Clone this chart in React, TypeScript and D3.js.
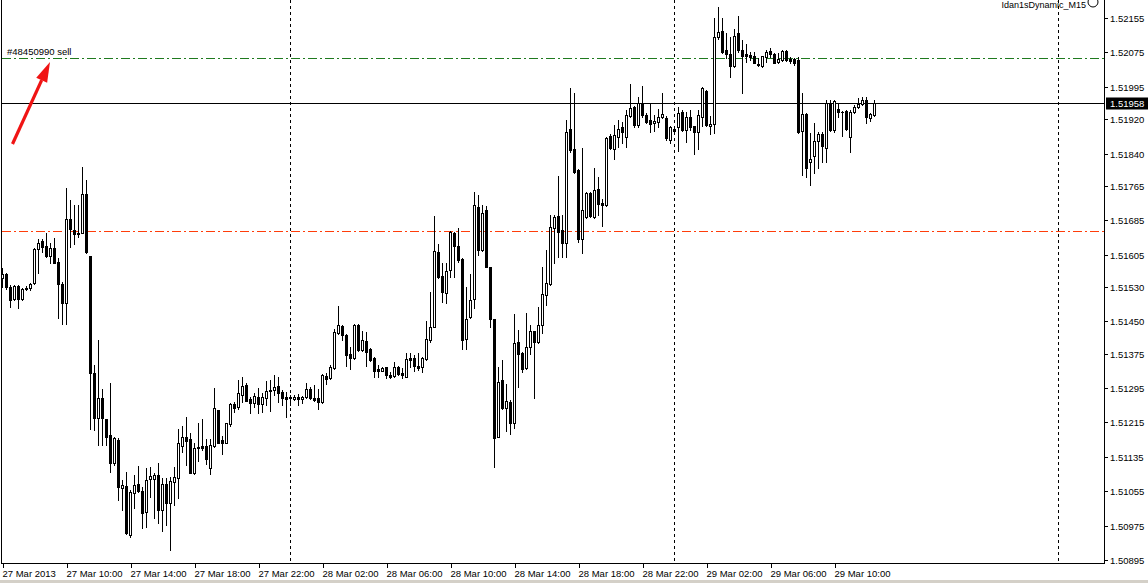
import React from "react";
import * as d3 from "d3";

const W = 1148;
const H = 583;

// First M15 bar of the chart
const startTime = new Date(2013, 2, 27, 6, 0);
const barMinutes = 15;

const open = [
1.51550,1.51560,1.51530,1.51502,1.51532,1.51502,1.51528,1.51528,1.51539,1.51618,
1.51636,1.51625,1.51602,1.51620,1.51587,1.51537,1.51492,1.51688,1.51662,1.51655,
1.51655,1.51746,1.51602,1.51330,1.51225,1.51271,1.51223,1.51185,1.51120,1.51174,
1.51062,1.51067,1.50953,1.51051,1.51072,1.51056,1.51006,1.51083,1.51083,1.51092,
1.51011,1.51072,1.51027,1.51076,1.51086,1.51160,1.51181,1.51176,1.51097,1.51158,
1.51160,1.51160,1.51109,1.51160,1.51244,1.51174,1.51167,1.51211,1.51258,1.51251,
1.51279,1.51301,1.51269,1.51260,1.51274,1.51258,1.51271,1.51290,1.51290,1.51299,
1.51285,1.51274,1.51274,1.51269,1.51274,1.51269,1.51274,1.51292,1.51271,1.51271,
1.51262,1.51323,1.51318,1.51342,1.51423,1.51439,1.51418,1.51374,1.51365,1.51441,
1.51383,1.51404,1.51386,1.51365,1.51339,1.51335,1.51344,1.51325,1.51323,1.51344,
1.51330,1.51321,1.51365,1.51365,1.51346,1.51344,1.51362,1.51406,1.51437,1.51611,
1.51555,1.51516,1.51569,1.51655,1.51625,1.51595,1.51409,1.51460,1.51502,1.51716,
1.51616,1.51709,1.51576,1.51455,1.51181,1.51313,1.51248,1.51262,1.51213,1.51402,
1.51376,1.51342,1.51391,1.51428,1.51402,1.51441,1.51512,1.51537,1.51667,1.51695,
1.51662,1.51632,1.51897,1.51850,1.51802,1.51641,1.51693,1.51748,1.51693,1.51757,
1.51725,1.51720,1.51880,1.51850,1.51878,1.51901,1.51878,1.51927,1.51948,1.51906,
1.51957,1.51929,1.51918,1.51911,1.51913,1.51925,1.51922,1.51871,1.51897,1.51901,
1.51937,1.51895,1.51925,1.51904,1.51890,1.51925,1.51985,1.51904,1.51908,1.52111,
1.52125,1.52081,1.52071,1.52043,1.52120,1.52081,1.52071,1.52069,1.52067,1.52048,
1.52043,1.52064,1.52078,1.52071,1.52053,1.52057,1.52078,1.52060,1.52060,1.52057,
1.51893,1.51932,1.51820,1.51834,1.51869,1.51885,1.51852,1.51957,1.51895,1.51943,
1.51937,1.51939,1.51878,1.51937,1.51948,1.51955,1.51964,1.51922,1.51929
];
const high = [
1.51573,1.51562,1.51534,1.51534,1.51534,1.51528,1.51532,1.51539,1.51620,1.51641,
1.51641,1.51655,1.51632,1.51644,1.51597,1.51541,1.51759,1.51732,1.51720,1.51720,
1.51809,1.51778,1.51602,1.51348,1.51406,1.51292,1.51223,1.51306,1.51181,1.51179,
1.51081,1.51099,1.51058,1.51092,1.51113,1.51065,1.51109,1.51111,1.51097,1.51120,
1.51086,1.51086,1.51088,1.51111,1.51199,1.51206,1.51227,1.51190,1.51167,1.51213,
1.51223,1.51176,1.51176,1.51294,1.51244,1.51183,1.51213,1.51260,1.51262,1.51313,
1.51320,1.51306,1.51274,1.51283,1.51294,1.51283,1.51311,1.51313,1.51325,1.51320,
1.51290,1.51285,1.51279,1.51279,1.51281,1.51276,1.51306,1.51297,1.51301,1.51292,
1.51327,1.51330,1.51348,1.51432,1.51485,1.51441,1.51421,1.51391,1.51444,1.51444,
1.51428,1.51425,1.51388,1.51367,1.51348,1.51344,1.51344,1.51332,1.51355,1.51346,
1.51342,1.51376,1.51376,1.51371,1.51376,1.51367,1.51451,1.51518,1.51695,1.51629,
1.51585,1.51585,1.51660,1.51657,1.51666,1.51597,1.51530,1.51560,1.51750,1.51743,
1.51720,1.51718,1.51576,1.51455,1.51344,1.51360,1.51304,1.51267,1.51467,1.51430,
1.51379,1.51469,1.51441,1.51428,1.51483,1.51576,1.51616,1.51697,1.51697,1.51788,
1.51697,1.51918,1.51992,1.51981,1.51804,1.51852,1.51750,1.51750,1.51806,1.51785,
1.51734,1.51878,1.51885,1.51906,1.51918,1.51913,1.51941,1.52002,1.51950,1.51971,
1.51997,1.51934,1.51957,1.51929,1.51943,1.51981,1.51927,1.51904,1.51901,1.51948,
1.51941,1.51937,1.51941,1.51904,1.51941,1.51994,1.51988,1.51927,1.52155,1.52181,
1.52155,1.52120,1.52111,1.52129,1.52159,1.52104,1.52095,1.52076,1.52076,1.52062,
1.52067,1.52081,1.52085,1.52074,1.52074,1.52081,1.52081,1.52064,1.52062,1.52064,
1.51981,1.51934,1.51888,1.51910,1.51890,1.51890,1.51964,1.51964,1.51964,1.51957,
1.51939,1.51941,1.51941,1.51953,1.51969,1.51971,1.51971,1.51934,1.51964
];
const low = [
1.51530,1.51525,1.51483,1.51499,1.51480,1.51499,1.51523,1.51523,1.51537,1.51562,
1.51611,1.51600,1.51585,1.51585,1.51457,1.51444,1.51444,1.51623,1.51629,1.51646,
1.51655,1.51609,1.51199,1.51197,1.51162,1.51162,1.51162,1.51099,1.51115,1.51034,
1.51011,1.50955,1.50948,1.51016,1.51053,1.50969,1.50972,1.51042,1.50993,1.50981,
1.50963,1.50977,1.50918,1.51022,1.51040,1.51146,1.51115,1.51097,1.51094,1.51125,
1.51150,1.51118,1.51094,1.51158,1.51167,1.51141,1.51167,1.51206,1.51239,1.51246,
1.51262,1.51265,1.51237,1.51251,1.51237,1.51239,1.51256,1.51241,1.51279,1.51262,
1.51256,1.51227,1.51256,1.51267,1.51256,1.51260,1.51271,1.51269,1.51265,1.51246,
1.51260,1.51304,1.51316,1.51339,1.51421,1.51406,1.51346,1.51339,1.51362,1.51381,
1.51381,1.51346,1.51358,1.51321,1.51321,1.51335,1.51318,1.51318,1.51321,1.51325,
1.51318,1.51321,1.51344,1.51335,1.51337,1.51332,1.51360,1.51402,1.51437,1.51550,
1.51495,1.51492,1.51553,1.51553,1.51587,1.51386,1.51386,1.51457,1.51480,1.51604,
1.51614,1.51576,1.51437,1.51111,1.51181,1.51246,1.51195,1.51189,1.51202,1.51297,
1.51332,1.51339,1.51374,1.51271,1.51400,1.51423,1.51487,1.51534,1.51585,1.51600,
1.51600,1.51600,1.51843,1.51795,1.51634,1.51609,1.51690,1.51693,1.51690,1.51697,
1.51671,1.51718,1.51850,1.51827,1.51854,1.51864,1.51854,1.51925,1.51901,1.51901,
1.51925,1.51911,1.51890,1.51892,1.51901,1.51922,1.51871,1.51864,1.51890,1.51846,
1.51892,1.51867,1.51895,1.51838,1.51850,1.51904,1.51904,1.51885,1.51888,1.52106,
1.52074,1.52062,1.52018,1.52041,1.52076,1.51981,1.52053,1.52057,1.52050,1.52043,
1.52041,1.52053,1.52064,1.52050,1.52050,1.52055,1.52055,1.52050,1.52046,1.51888,
1.51790,1.51785,1.51766,1.51795,1.51806,1.51820,1.51820,1.51893,1.51890,1.51925,
1.51881,1.51895,1.51843,1.51934,1.51946,1.51953,1.51911,1.51915,1.51927
];
const close = [
1.51560,1.51530,1.51499,1.51532,1.51502,1.51525,1.51525,1.51537,1.51618,1.51632,
1.51623,1.51602,1.51620,1.51585,1.51537,1.51492,1.51688,1.51664,1.51653,1.51653,
1.51746,1.51611,1.51330,1.51225,1.51271,1.51225,1.51181,1.51120,1.51179,1.51065,
1.51069,1.50958,1.51053,1.51069,1.51056,1.51004,1.51081,1.51090,1.51092,1.51011,
1.51072,1.51027,1.51079,1.51088,1.51167,1.51181,1.51172,1.51097,1.51155,1.51155,
1.51155,1.51130,1.51162,1.51248,1.51167,1.51167,1.51213,1.51258,1.51248,1.51283,
1.51299,1.51265,1.51260,1.51276,1.51258,1.51274,1.51287,1.51287,1.51297,1.51283,
1.51271,1.51269,1.51271,1.51274,1.51269,1.51274,1.51292,1.51271,1.51267,1.51262,
1.51325,1.51316,1.51344,1.51425,1.51441,1.51418,1.51371,1.51365,1.51441,1.51383,
1.51406,1.51379,1.51360,1.51335,1.51335,1.51342,1.51325,1.51321,1.51344,1.51327,
1.51325,1.51362,1.51360,1.51346,1.51342,1.51365,1.51409,1.51437,1.51614,1.51553,
1.51518,1.51567,1.51657,1.51625,1.51592,1.51406,1.51455,1.51499,1.51720,1.51616,
1.51702,1.51576,1.51455,1.51179,1.51308,1.51248,1.51265,1.51213,1.51400,1.51374,
1.51339,1.51391,1.51428,1.51402,1.51441,1.51514,1.51539,1.51669,1.51693,1.51657,
1.51632,1.51890,1.51848,1.51797,1.51641,1.51709,1.51748,1.51695,1.51755,1.51723,
1.51720,1.51876,1.51852,1.51883,1.51897,1.51890,1.51929,1.51946,1.51906,1.51957,
1.51929,1.51913,1.51909,1.51915,1.51925,1.51932,1.51876,1.51901,1.51892,1.51934,
1.51895,1.51925,1.51901,1.51890,1.51929,1.51992,1.51906,1.51908,1.52111,1.52122,
1.52076,1.52071,1.52043,1.52113,1.52081,1.52067,1.52067,1.52064,1.52050,1.52046,
1.52067,1.52076,1.52071,1.52050,1.52060,1.52078,1.52057,1.52055,1.52050,1.51890,
1.51932,1.51806,1.51827,1.51869,1.51885,1.51857,1.51957,1.51895,1.51962,1.51937,
1.51936,1.51897,1.51937,1.51948,1.51955,1.51964,1.51925,1.51932,1.51958
];

const timeTickTimes = [
  "2013-03-27T06:00", "2013-03-27T10:00", "2013-03-27T14:00", "2013-03-27T18:00",
  "2013-03-27T22:00", "2013-03-28T02:00", "2013-03-28T06:00", "2013-03-28T10:00",
  "2013-03-28T14:00", "2013-03-28T18:00", "2013-03-28T22:00", "2013-03-29T02:00",
  "2013-03-29T06:00", "2013-03-29T10:00",
];
const timeTickLabels = [
  "27 Mar 2013", "27 Mar 10:00", "27 Mar 14:00", "27 Mar 18:00", "27 Mar 22:00",
  "28 Mar 02:00", "28 Mar 06:00", "28 Mar 10:00", "28 Mar 14:00", "28 Mar 18:00",
  "28 Mar 22:00", "29 Mar 02:00", "29 Mar 06:00", "29 Mar 10:00",
];
const daySeparators = ["2013-03-28T00:00", "2013-03-29T00:00", "2013-03-30T00:00"];
const priceTicks = [
  1.52155, 1.52075, 1.51995, 1.51920, 1.51840, 1.51765, 1.51685, 1.51605, 1.51530,
  1.51450, 1.51375, 1.51295, 1.51215, 1.51135, 1.51055, 1.50975, 1.50895,
];
const currentPrice = 1.51958;
const takeProfit = 1.52063;
const stopLoss = 1.51659;
const orderLabel = "#48450990 sell";
const expertTitle = "Idan1sDynamic_M15";

const FONT = "'Liberation Sans', Arial, sans-serif";
const plotLeft = 1.5;
const plotRight = 1104.5;
const plotBottom = 563.5;

export default function App() {
  React.useEffect(() => {
    document.body.style.margin = "0";
  }, []);

  const parse = (s: string) => new Date(s);
  const x = d3
    .scaleTime()
    .domain([startTime, new Date(startTime.getTime() + 60 * 60000)])
    .range([2.5, 18.5]);
  const y = d3.scaleLinear().domain([1.50895, 1.52155]).range([560, 18]);
  const py = (p: number) => Math.round(y(p));

  const candles = open.map((o, i) => {
    const t = new Date(startTime.getTime() + i * barMinutes * 60000);
    const cx = x(t);
    const c = close[i];
    const yH = py(high[i]);
    const yL = py(low[i]);
    const yO = py(o);
    const yC = py(c);
    const top = Math.min(yO, yC);
    const bot = Math.max(yO, yC);
    const bull = c > o;
    return (
      <g key={i}>
        <rect x={cx - 0.5} y={yH} width={1} height={Math.max(1, yL - yH + 1)} fill="#000" />
        {bull && bot - top >= 1 ? (
          <rect x={cx - 1} y={top + 0.5} width={2} height={bot - top} fill="#fff" stroke="#000" strokeWidth={1} />
        ) : (
          <rect x={cx - 1.5} y={top} width={3} height={Math.max(1, bot - top + 1)} fill="#000" />
        )}
      </g>
    );
  });

  const yCur = Math.round(y(currentPrice)) + 0.5;
  const yTP = Math.round(y(takeProfit)) + 0.5;
  const ySL = Math.round(y(stopLoss)) + 0.5;

  // arrow annotation
  const tail = [12.5, 144];
  const tip = [50, 62];
  const dx = tip[0] - tail[0];
  const dy = tip[1] - tail[1];
  const len = Math.hypot(dx, dy);
  const ux = dx / len, uy = dy / len;
  const hl = 20, hw = 6;
  const bx = tip[0] - hl * ux, by = tip[1] - hl * uy;
  const head = `${tip[0]},${tip[1]} ${bx + hw * -uy},${by + hw * ux} ${bx - hw * -uy},${by - hw * ux}`;

  return (
    <svg
      width={W}
      height={H}
      viewBox={`0 0 ${W} ${H}`}
      style={{ display: "block", position: "absolute", left: 0, top: 0, background: "#fff" }}
      fontFamily={FONT}
    >
      <rect x={0} y={0} width={W} height={H} fill="#fff" />
      <rect x={0} y={580} width={W} height={3} fill="#d4d0c8" />

      {/* day separators */}
      <g shapeRendering="crispEdges">
        {daySeparators.map((d) => {
          const xx = x(parse(d));
          return (
            <line key={d} x1={xx} x2={xx} y1={0} y2={plotBottom} stroke="#000" strokeWidth={1} strokeDasharray="3,3" />
          );
        })}
      </g>

      {/* expert title at the top right */}
      <text x={1086} y={8} fontSize={9} textAnchor="end" fill="#000">{expertTitle}</text>
      <circle cx={1093} cy={2} r={5} fill="#fff" stroke="#000" strokeWidth={1} />

      {/* order levels */}
      <g shapeRendering="crispEdges">
        <line x1={plotLeft} x2={plotRight} y1={yTP} y2={yTP} stroke="#1f7a1f" strokeWidth={1} strokeDasharray="9,3,2,3" />
        <line x1={plotLeft} x2={plotRight} y1={ySL} y2={ySL} stroke="#ff3d0a" strokeWidth={1} strokeDasharray="9,3,2,3" />
        <line x1={plotLeft} x2={plotRight} y1={yCur} y2={yCur} stroke="#000" strokeWidth={1} />
      </g>
      <text x={7} y={55} fontSize={9.5} fill="#000">{orderLabel}</text>

      {/* candles */}
      <g shapeRendering="crispEdges">{candles}</g>

      {/* arrow */}
      <line x1={tail[0]} y1={tail[1]} x2={bx} y2={by} stroke="#f01414" strokeWidth={3.2} />
      <polygon points={head} fill="#f01414" />

      {/* frame */}
      <g shapeRendering="crispEdges" stroke="#000" strokeWidth={1}>
        <line x1={plotLeft} x2={plotLeft} y1={0} y2={plotBottom} />
        <line x1={plotLeft} x2={plotRight} y1={plotBottom} y2={plotBottom} />
        <line x1={plotRight} x2={plotRight} y1={0} y2={plotBottom} />
      </g>

      {/* price axis */}
      <g shapeRendering="crispEdges">
        {priceTicks.map((p) => {
          const yy = Math.round(y(p)) + 0.5;
          return (
            <g key={p}>
              <line x1={plotRight} x2={plotRight + 3} y1={yy} y2={yy} stroke="#000" />
              <text x={1110} y={yy + 3.5} fontSize={9.5} fill="#000">{p.toFixed(5)}</text>
            </g>
          );
        })}
      </g>
      <rect x={1106} y={yCur - 6} width={42} height={12} fill="#000" />
      <text x={1110} y={yCur + 3.5} fontSize={9.5} fill="#fff">{currentPrice.toFixed(5)}</text>

      {/* time axis */}
      <g shapeRendering="crispEdges">
        {timeTickTimes.map((s, i) => {
          const xx = Math.round(x(parse(s))) + 0.5;
          return (
            <g key={s}>
              <line x1={xx} x2={xx} y1={plotBottom} y2={plotBottom + 4} stroke="#000" />
              <text x={xx - 1} y={577} fontSize={9.5} fill="#000">{timeTickLabels[i]}</text>
            </g>
          );
        })}
      </g>
    </svg>
  );
}
